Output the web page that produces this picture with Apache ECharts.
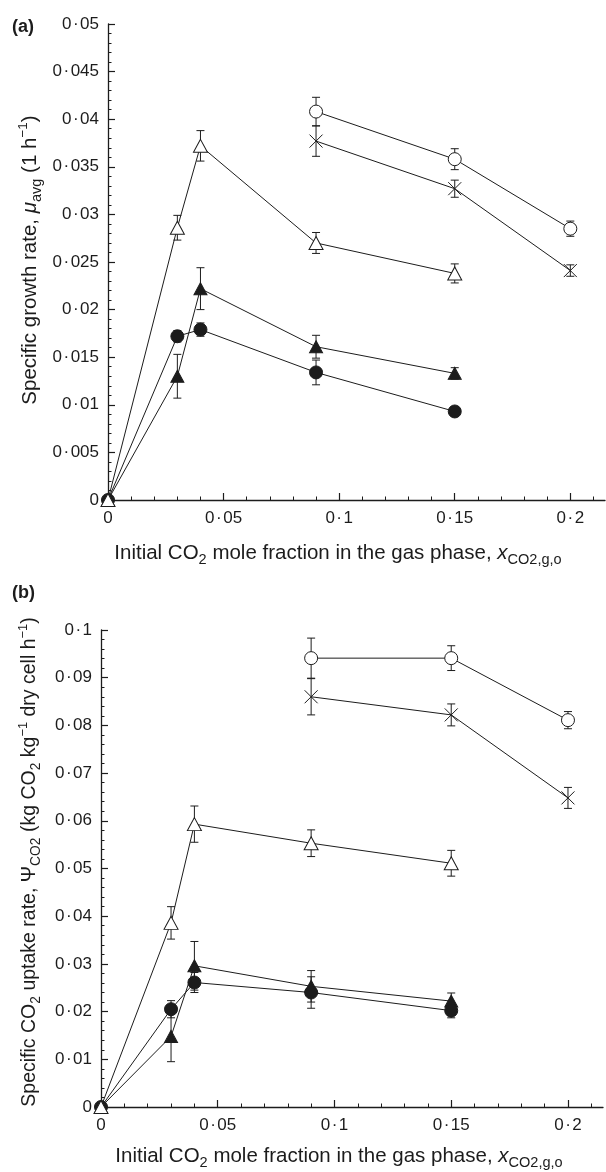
<!DOCTYPE html>
<html>
<head>
<meta charset="utf-8">
<script src="https://cdn.jsdelivr.net/npm/echarts@6/dist/echarts.min.js"></script>
<style>
  html, body { margin: 0; padding: 0; background: #fff; }
  #chart { width: 606px; height: 1172px; }
</style>
</head>
<body>
<div id="chart"></div>
<script>
// Initial CO2 mole fractions in the gas phase
const xLow = [0, 0.03, 0.04, 0.09, 0.15];
const xHigh = [0.09, 0.15, 0.2];

// Axis tick values
const xTicks = [0, 0.05, 0.1, 0.15, 0.2];

// (a) Specific growth rate, mu_avg (1/h), with error half-widths
const growthOpenTri = [0, 0.0286, 0.0372, 0.0270, 0.0238];
const growthOpenTriErr = [0, 0.0013, 0.0016, 0.0011, 0.0010];
const growthFilledTri = [0, 0.0130, 0.0222, 0.0161, 0.0133];
const growthFilledTriErr = [0, 0.0023, 0.0022, 0.0012, 0.0006];
const growthFilledCirc = [0, 0.0172, 0.0179, 0.0134, 0.0093];
const growthFilledCircErr = [0, 0.0006, 0.0007, 0.0013, 0.0005];
const growthOpenCirc = [0.0408, 0.0358, 0.0285];
const growthOpenCircErr = [0.0015, 0.0011, 0.0008];
const growthCross = [0.0377, 0.0327, 0.0241];
const growthCrossErr = [0.0016, 0.0009, 0.0006];

// (b) Specific CO2 uptake rate (kg CO2 / kg dry cell / h), with error half-widths
const uptakeOpenTri = [0, 0.0386, 0.0593, 0.0553, 0.0511];
const uptakeOpenTriErr = [0, 0.0034, 0.0038, 0.0028, 0.0027];
const uptakeFilledTri = [0, 0.0148, 0.0296, 0.0253, 0.0222];
const uptakeFilledTriErr = [0, 0.0053, 0.0051, 0.0033, 0.0017];
const uptakeFilledCirc = [0, 0.0205, 0.0261, 0.0240, 0.0202];
const uptakeFilledCircErr = [0, 0.0018, 0.0021, 0.0033, 0.0015];
const uptakeOpenCirc = [0.0941, 0.0941, 0.0811];
const uptakeOpenCircErr = [0.0042, 0.0026, 0.0018];
const uptakeCross = [0.0860, 0.0822, 0.0648];
const uptakeCrossErr = [0.0038, 0.0023, 0.0022];

const FONT = '"Liberation Sans", Arial, Helvetica, sans-serif';
const INK = '#1c1c1c';

const chart = echarts.init(document.getElementById('chart'), null, { renderer: 'canvas' });

function points(xs, ys) { return xs.map((x, i) => [x, ys[i]]); }
function bars(xs, ys, es) {
  const out = [];
  xs.forEach((x, i) => { if (es[i] > 0) out.push([x, ys[i] - es[i], ys[i] + es[i]]); });
  return out;
}

const MARKERS = {
  openTri:    { symbol: 'triangle', size: [14, 13], fill: '#fff' },
  filledTri:  { symbol: 'triangle', size: [13, 12], fill: INK },
  filledCirc: { symbol: 'circle', size: 13, fill: INK },
  openCirc:   { symbol: 'circle', size: 13, fill: '#fff' },
  cross:      { symbol: 'path://M0,0L10,10M10,0L0,10', size: 13, fill: 'none' }
};

function lineSeries(idx, xs, ys, kind, z) {
  const m = MARKERS[kind];
  return {
    type: 'line', xAxisIndex: idx, yAxisIndex: idx,
    data: points(xs, ys), clip: false, z: z,
    symbol: m.symbol, symbolSize: m.size,
    itemStyle: { color: m.fill, borderColor: INK, borderWidth: 1 },
    lineStyle: { color: INK, width: 1 },
    emphasis: { disabled: true }
  };
}

function errorSeries(idx, xs, ys, es) {
  return {
    type: 'custom', xAxisIndex: idx, yAxisIndex: idx, z: 1, clip: false,
    data: bars(xs, ys, es),
    encode: { x: 0, y: [1, 2] },
    renderItem(params, api) {
      const x = api.value(0);
      const lo = api.coord([x, api.value(1)]);
      const hi = api.coord([x, api.value(2)]);
      const w = 4;
      const st = { stroke: INK, lineWidth: 1 };
      return {
        type: 'group',
        children: [
          { type: 'line', shape: { x1: hi[0], y1: hi[1], x2: lo[0], y2: lo[1] }, style: st },
          { type: 'line', shape: { x1: hi[0] - w, y1: hi[1], x2: hi[0] + w, y2: hi[1] }, style: st },
          { type: 'line', shape: { x1: lo[0] - w, y1: lo[1], x2: lo[0] + w, y2: lo[1] }, style: st }
        ]
      };
    }
  };
}

function tickText(v) {
  const s = String(Math.round(v * 100000) / 100000);
  return s.replace('.', '{d|·}');
}

const labelRich = { d: { fontFamily: FONT, fontSize: 17, color: INK, padding: [0, 1.5, 0, 1.5] } };

function xAxis(idx) {
  return {
    type: 'value', gridIndex: idx, min: 0, max: 0.215, interval: 0.05,
    axisLine: { lineStyle: { color: INK, width: 1.3 } },
    axisTick: { inside: true, length: 7, customValues: xTicks, lineStyle: { color: INK, width: 1.2 } },
    minorTick: { show: true, splitNumber: 5, length: 3.5, lineStyle: { color: INK, width: 1 } },
    axisLabel: {
      customValues: xTicks, margin: 10,
      fontFamily: FONT, fontSize: 17, color: INK,
      formatter: tickText, rich: labelRich
    },
    splitLine: { show: false }
  };
}

function yAxis(idx, max, interval) {
  return {
    type: 'value', gridIndex: idx, min: 0, max: max, interval: interval,
    axisLine: { show: true, lineStyle: { color: INK, width: 1.3 } },
    axisTick: { show: true, inside: true, length: 7, lineStyle: { color: INK, width: 1.2 } },
    minorTick: { show: true, splitNumber: 5, length: 3.5, lineStyle: { color: INK, width: 1 } },
    axisLabel: {
      margin: 9, fontFamily: FONT, fontSize: 17, color: INK,
      formatter: tickText, rich: labelRich
    },
    splitLine: { show: false }
  };
}

// Rich styles for the axis titles (sub- and superscripts), scaled from the base size
function titleRich(fs) {
  return {
    it:   { fontFamily: FONT, fontSize: fs, fontStyle: 'italic', fill: INK, lineHeight: fs * 1.37 },
    sub:  { fontFamily: FONT, fontSize: fs * 0.71, fill: INK, lineHeight: fs * 0.88, verticalAlign: 'bottom' },
    sub2: { fontFamily: FONT, fontSize: fs * 0.71, fill: INK, lineHeight: fs * 0.59, verticalAlign: 'bottom' },
    sup:  { fontFamily: FONT, fontSize: fs * 0.66, fill: INK, lineHeight: fs * 1.02, verticalAlign: 'top' }
  };
}

function titleText(x, y, text, rotate, fs) {
  return {
    type: 'text', x: x, y: y, rotation: rotate ? Math.PI / 2 : 0, silent: true,
    style: {
      text: text, rich: titleRich(fs),
      fontFamily: FONT, fontSize: fs, fill: INK, lineHeight: fs * 1.37,
      align: 'center', verticalAlign: 'middle'
    }
  };
}

function panelLabel(x, y, text) {
  return {
    type: 'text', x: x, y: y, silent: true,
    style: { text: text, fontFamily: FONT, fontSize: 18, fontWeight: 'bold', fill: INK,
             align: 'left', verticalAlign: 'middle' }
  };
}

const xTitle = 'Initial CO{sub|2} mole fraction in the gas phase, {it|x}{sub|CO}{sub2|2,g,o}';
const yTitleA = 'Specific growth rate, {it|μ}{sub|avg} (1 h{sup|−1})';
const yTitleB = 'Specific CO{sub|2} uptake rate, Ψ{sub|CO}{sub2|2} (kg CO{sub|2} kg{sup|−1} dry cell h{sup|−1})';

const option = {
  backgroundColor: '#fff',
  animation: false,
  grid: [
    { left: 108, top: 24, width: 497, height: 476 },
    { left: 101, top: 630, width: 502, height: 477 }
  ],
  xAxis: [xAxis(0), xAxis(1)],
  yAxis: [yAxis(0, 0.05, 0.005), yAxis(1, 0.1, 0.01)],
  series: [
    errorSeries(0, xLow, growthOpenTri, growthOpenTriErr),
    errorSeries(0, xLow, growthFilledTri, growthFilledTriErr),
    errorSeries(0, xLow, growthFilledCirc, growthFilledCircErr),
    errorSeries(0, xHigh, growthOpenCirc, growthOpenCircErr),
    errorSeries(0, xHigh, growthCross, growthCrossErr),
    lineSeries(0, xLow, growthFilledTri, 'filledTri', 2),
    lineSeries(0, xLow, growthFilledCirc, 'filledCirc', 3),
    lineSeries(0, xLow, growthOpenTri, 'openTri', 4),
    lineSeries(0, xHigh, growthOpenCirc, 'openCirc', 4),
    lineSeries(0, xHigh, growthCross, 'cross', 4),

    errorSeries(1, xLow, uptakeOpenTri, uptakeOpenTriErr),
    errorSeries(1, xLow, uptakeFilledTri, uptakeFilledTriErr),
    errorSeries(1, xLow, uptakeFilledCirc, uptakeFilledCircErr),
    errorSeries(1, xHigh, uptakeOpenCirc, uptakeOpenCircErr),
    errorSeries(1, xHigh, uptakeCross, uptakeCrossErr),
    lineSeries(1, xLow, uptakeFilledTri, 'filledTri', 2),
    lineSeries(1, xLow, uptakeFilledCirc, 'filledCirc', 3),
    lineSeries(1, xLow, uptakeOpenTri, 'openTri', 4),
    lineSeries(1, xHigh, uptakeOpenCirc, 'openCirc', 4),
    lineSeries(1, xHigh, uptakeCross, 'cross', 4)
  ],
  graphic: [
    panelLabel(12, 27, '(a)'),
    panelLabel(12, 593, '(b)'),
    titleText(338, 553, xTitle, false, 20.5),
    titleText(339, 1156, xTitle, false, 20.5),
    titleText(30, 260, yTitleA, true, 20.5),
    titleText(30, 862, yTitleB, true, 19.5)
  ]
};

chart.setOption(option);
</script>
</body>
</html>
